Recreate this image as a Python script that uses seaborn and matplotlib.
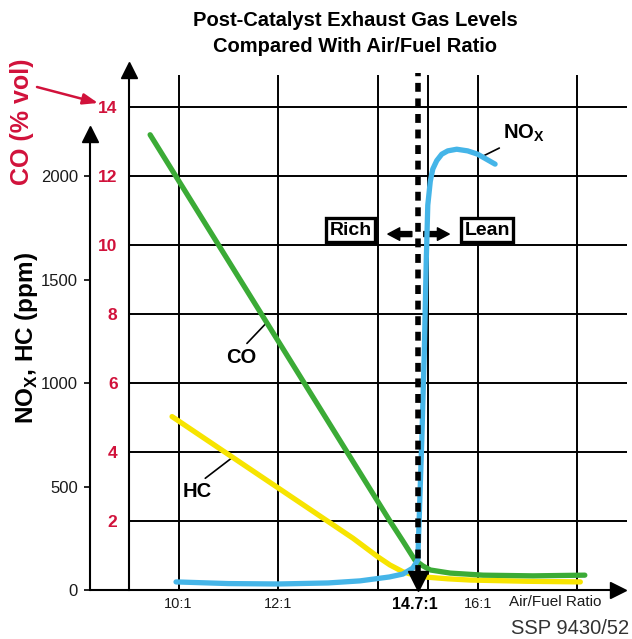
import numpy as np
import matplotlib
matplotlib.use("Agg")
import matplotlib.pyplot as plt
import seaborn as sns

# valores
co_afr = [9.43, 14.24, 14.50, 14.74, 14.90, 15.05, 15.45, 16.11, 17.11, 18.15]
co_pct = [13.2, 2.0, 1.42, 0.87, 0.70, 0.58, 0.49, 0.43, 0.41, 0.43]

hc_afr = [9.87, 13.5, 13.75, 14.0, 14.24, 14.5, 14.75, 14.98, 15.4, 15.85, 17.0, 18.06]
hc_ppm = [838, 250, 205, 160, 121, 88, 70, 62, 54, 48, 42, 39]

nox_afr = [9.95, 11.0, 12.0, 13.0, 13.64, 14.23, 14.5, 14.7, 14.8, 14.84, 14.88, 14.93, 14.97, 15.0,
           15.05, 15.1, 15.18, 15.28, 15.4, 15.58, 15.8, 16.0, 16.35]
nox_ppm = [39, 31, 29, 34, 44, 63, 77, 106, 145, 436, 726, 1150, 1598, 1860,
           1975, 2034, 2075, 2106, 2122, 2130, 2122, 2106, 2058]

co_ticks = [2, 4, 6, 8, 10, 12, 14]
ppm_ticks = [0, 500, 1000, 1500, 2000]
afr_grid = [10, 12, 14, 15, 16, 18]
afr_ticks = [10, 12, 14.75, 16]
afr_labels = ["10:1", "12:1", "14.7:1", "16:1"]
stoich_afr = 14.8
ppm_per_co = 2000 / 12

GREEN = "#3bab36"
YELLOW = "#f7e400"
BLUE = "#45b5e8"
RED = "#d1123b"

sns.set_style("white")
plt.rcParams["font.family"] = ["Liberation Sans", "DejaVu Sans"]
plt.rcParams["mathtext.fontset"] = "custom"
plt.rcParams["mathtext.rm"] = "Liberation Sans"
plt.rcParams["mathtext.bf"] = "Liberation Sans:bold"
plt.rcParams["text.color"] = "black"
plt.rcParams["xtick.color"] = "black"
plt.rcParams["ytick.color"] = "black"

fig = plt.figure(figsize=(6.32, 6.39), dpi=100)
ax = fig.add_axes([0.2036, 0.0767, 0.7888, 0.8247])
ax.set_xlim(9, 19)
ax.set_ylim(0, 15.28)
ax2 = ax.twinx()
ax2.set_ylim(0, 15.28 * ppm_per_co)

# rejilla
ax.hlines(co_ticks, 9, 19, color="black", lw=1.4, zorder=1)
ax.vlines(afr_grid, 0, 14.93, color="black", lw=1.4, zorder=1)

# ejes
for s in ["top", "right", "bottom"]:
    ax.spines[s].set_visible(False)
    ax2.spines[s].set_visible(False)
ax.spines["left"].set_bounds(0, 15.0)
ax.spines["left"].set_linewidth(1.5)
ax.spines["left"].set_color("black")
ax2.spines["left"].set_visible(True)
ax2.spines["left"].set_position(("outward", 28))
ax2.spines["left"].set_bounds(0, 2180)
ax2.spines["left"].set_linewidth(1.5)
ax2.spines["left"].set_color("black")
nox_axis_x = 8.224
ax.plot([nox_axis_x, 18.8], [0, 0], color="black", lw=1.5, clip_on=False, zorder=3)
ax.plot(9, 15.07, marker="^", ms=11.5, color="black", clip_on=False)
ax.plot(18.82, 0, marker=">", ms=11.5, color="black", clip_on=False)
ax2.plot(nox_axis_x, 2205, marker="^", ms=11.5, color="black", clip_on=False)

ax.set_yticks(co_ticks)
ax.set_yticklabels([str(t) for t in co_ticks], color=RED, fontweight="bold", fontsize=12.5)
ax.tick_params(axis="y", length=0, pad=8)
ax.set_xticks(afr_ticks)
ax.set_xticklabels(afr_labels, fontsize=10.5, color="#1a1a1a")
ax.get_xticklabels()[2].set_fontweight("bold")
ax.get_xticklabels()[2].set_fontsize(11.5)
ax.get_xticklabels()[2].set_color("black")
ax.tick_params(axis="x", length=0, pad=5)

ax2.yaxis.tick_left()
ax2.set_yticks(ppm_ticks)
ax2.set_yticklabels([str(t) for t in ppm_ticks], fontsize=12, color="#1a1a1a")
ax2.tick_params(axis="y", left=True, right=False, labelleft=True, labelright=False,
                length=4.5, width=1.2, pad=4)

# curvas
sns.lineplot(x=hc_afr, y=hc_ppm, ax=ax2, color=YELLOW, lw=3.8, zorder=4)
sns.lineplot(x=co_afr, y=np.array(co_pct) * ppm_per_co, ax=ax2, color=GREEN, lw=3.8, zorder=5)
sns.lineplot(x=nox_afr, y=nox_ppm, ax=ax2, color=BLUE, lw=3.8, zorder=6)

# linea estequiometrica
ax2.vlines(stoich_afr, 0.45 * ppm_per_co, 14.98 * ppm_per_co, color="black", lw=4,
           linestyles=[(0, (1.6, 1.2))], zorder=7)
ax2.plot(stoich_afr, 0.27 * ppm_per_co, marker="v", ms=14, color="black", clip_on=False, zorder=8)

# etiquetas de curvas
ax2.annotate("CO", xy=(11.78, 7.77 * ppm_per_co), xytext=(11.26, 6.75 * ppm_per_co),
             ha="center", va="center", fontsize=14.5, fontweight="bold",
             arrowprops=dict(arrowstyle="-", lw=1.2, color="black", relpos=(0.55, 1.0), shrinkA=1, shrinkB=0))
ax2.annotate("HC", xy=(11.1, 644), xytext=(10.37, 474),
             ha="center", va="center", fontsize=14.5, fontweight="bold",
             arrowprops=dict(arrowstyle="-", lw=1.2, color="black", relpos=(0.6, 1.0), shrinkA=1, shrinkB=0))
ax2.annotate(r"NO$_{\mathbf{X}}$", xy=(16.11, 2097), xytext=(16.93, 2206),
             ha="center", va="center", fontsize=14.5, fontweight="bold",
             arrowprops=dict(arrowstyle="-", lw=1.2, color="black", relpos=(0.2, 0.1), shrinkA=1, shrinkB=0))

# Rich / Lean
box = dict(boxstyle="square,pad=0.17", fc="white", ec="black", lw=2.4)
ax.text(13.45, 10.43, "Rich", ha="center", va="center", fontsize=14, fontweight="bold", bbox=box, zorder=9)
ax.text(16.19, 10.43, "Lean", ha="center", va="center", fontsize=14, fontweight="bold", bbox=box, zorder=9)
arrow = dict(arrowstyle="simple,head_length=8.5,head_width=9,tail_width=3.6", mutation_scale=1,
             color="black", shrinkA=0, shrinkB=0)
ax.annotate("", xy=(14.20, 10.32), xytext=(14.68, 10.32), arrowprops=arrow, zorder=9)
ax.annotate("", xy=(15.43, 10.32), xytext=(14.92, 10.32), arrowprops=arrow, zorder=9)

# textos
fig.text(0.5617, 1 - 20 / 639, "Post-Catalyst Exhaust Gas Levels", ha="center", va="center",
         fontsize=14.5, fontweight="bold")
fig.text(0.5617, 1 - 47 / 639, "Compared With Air/Fuel Ratio", ha="center", va="center",
         fontsize=14.5, fontweight="bold")
fig.text(27 / 632, 1 - 338 / 639, r"NO$_{\mathbf{X}}$, HC (ppm)", rotation=90, ha="center", va="center",
         fontsize=17.5, fontweight="bold")
fig.text(22 / 632, 1 - 122 / 639, "CO (% vol)", rotation=90, ha="center", va="center",
         fontsize=18, fontweight="bold", color=RED)
ax.annotate("", xy=(98 / 632, 1 - 103 / 639), xytext=(37 / 632, 1 - 87 / 639),
            xycoords="figure fraction", textcoords="figure fraction",
            arrowprops=dict(arrowstyle="-|>,head_length=0.9,head_width=0.33", color=RED, lw=1.8,
                            shrinkA=0, shrinkB=0))
fig.text(555 / 632, 1 - 602 / 639, "Air/Fuel Ratio", ha="center", va="center", fontsize=11, color="#1a1a1a")
fig.text(629 / 632, 1 - 628 / 639, "SSP 9430/52", ha="right", va="center", fontsize=14.5, color="#333333")

fig.savefig("out.png", dpi=100)
